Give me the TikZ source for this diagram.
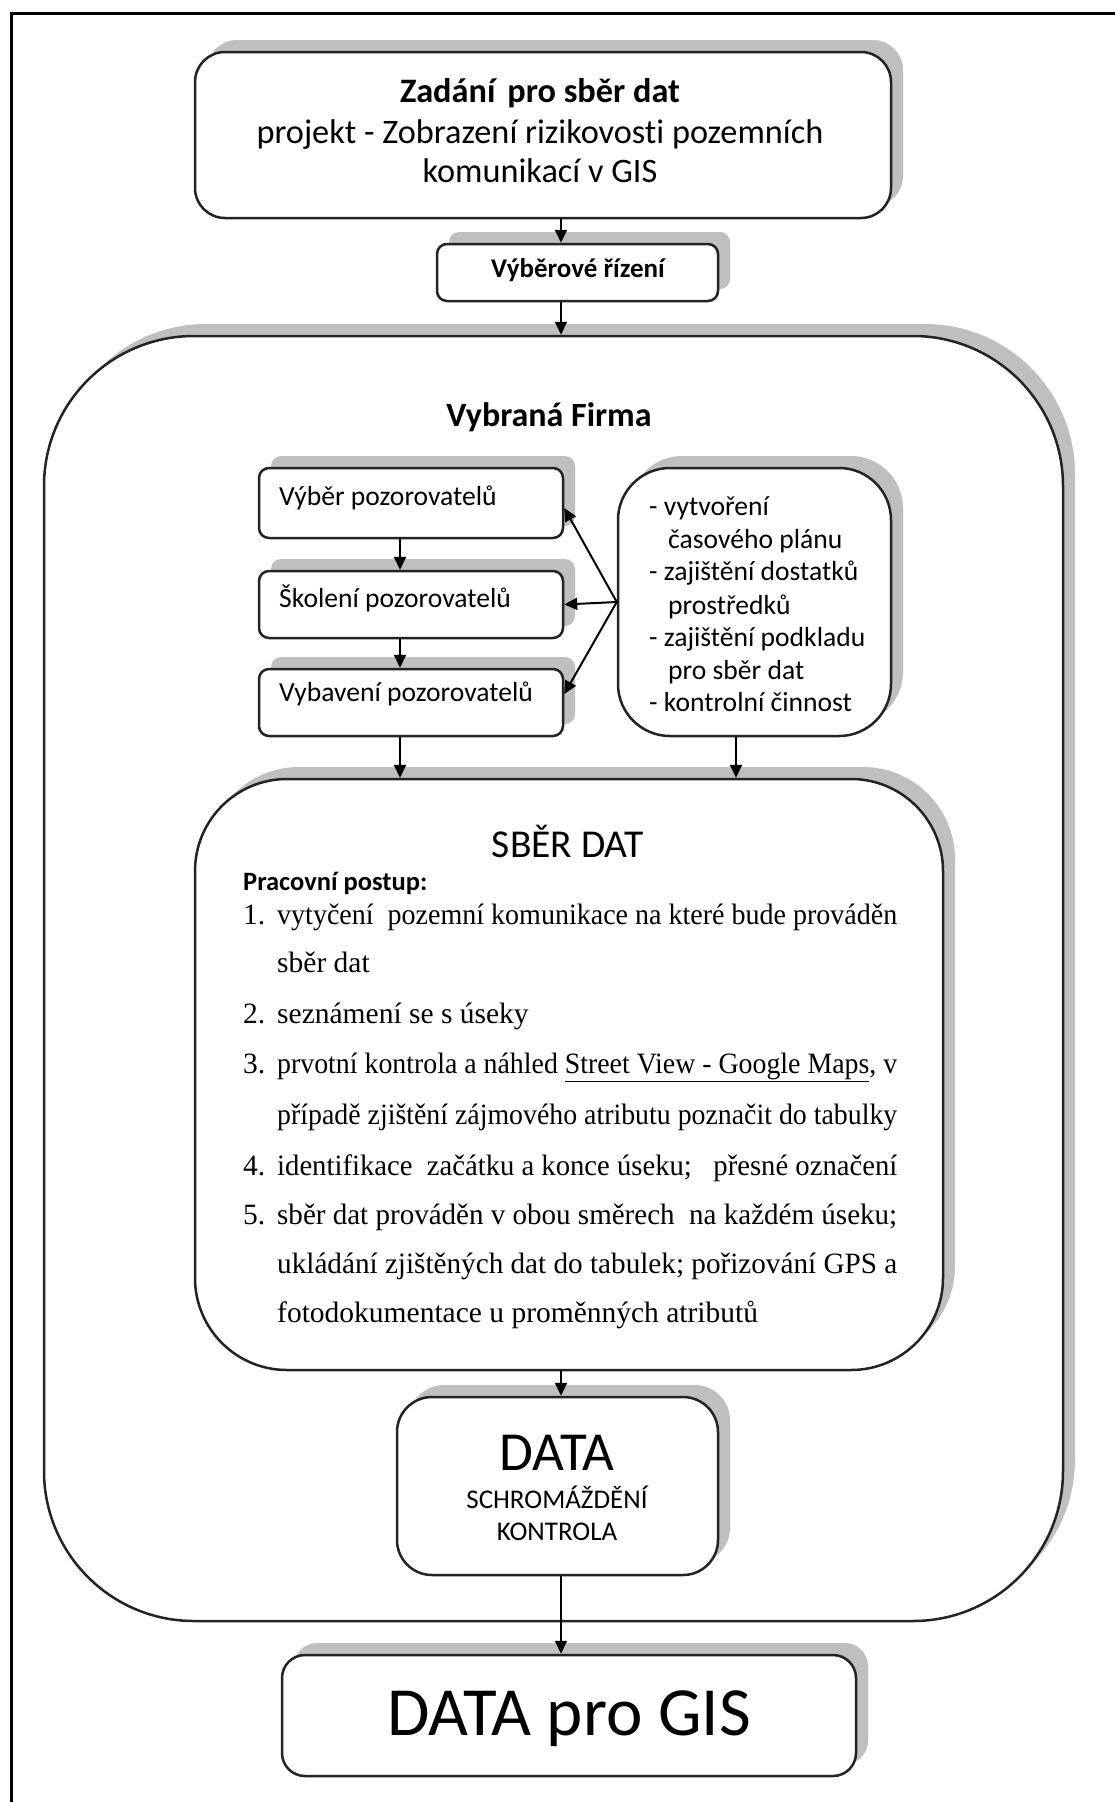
\documentclass[tikz,border=0pt]{standalone}
\usepackage{fontspec}
\setmainfont{Carlito}[Ligatures=NoCommon]
\newfontfamily\serifTNR{Liberation Serif}[Ligatures=NoCommon]
\usepackage{graphicx}
\usetikzlibrary{arrows.meta,shadows}
\definecolor{shadowgray}{RGB}{191,191,191}
\definecolor{edgegray}{RGB}{35,35,35}
\newcommand{\fs}[2]{\fontsize{#1}{#2}\selectfont}
\newcommand{\jl}[1]{\resizebox{620pt}{\height}{#1}}
\begin{document}
\begin{tikzpicture}[x=1pt,y=-1pt,
  box/.style={draw=edgegray, line width=2.5pt, fill=white, rectangle, inner sep=0pt,
     drop shadow={shadow xshift=12pt, shadow yshift=12pt, fill=shadowgray, opacity=1}},
  arr/.style={line width=2pt, -{Triangle[length=13pt,width=12pt]}},
  txt/.style={inner sep=0pt, anchor=base},
  ltxt/.style={inner sep=0pt, anchor=base west},
  smalltxt/.style={ltxt, font={\fs{27.6}{32}}},
  listtxt/.style={ltxt, font={\serifTNR\fs{29.5}{43}}},
]
\clip (0,0) rectangle (1115,1802);
\fill[white] (0,0) rectangle (1115,1802);
\draw[line width=3pt] (11,1830) -- (11,13) -- (1140,13);

% boxes
\node[box, minimum width=696pt, minimum height=166pt, rounded corners=30pt] (top) at (543,135) {};
\node[box, minimum width=281pt, minimum height=57pt, rounded corners=10pt] (vyber) at (577.5,272.5) {};
\node[box, minimum width=1019pt, minimum height=1285pt, rounded corners=150pt] (firma) at (553.5,978.5) {};
\node[box, minimum width=304pt, minimum height=70pt, rounded corners=10pt] (b1) at (411,503) {};
\node[box, minimum width=304pt, minimum height=67pt, rounded corners=10pt] (b2) at (411,604.5) {};
\node[box, minimum width=304pt, minimum height=67pt, rounded corners=10pt] (b3) at (411,702.5) {};
\node[box, minimum width=273pt, minimum height=268pt, rounded corners=52pt] (right) at (754.5,602) {};
\node[box, minimum width=748pt, minimum height=591pt, rounded corners=92pt] (sber) at (569,1074.5) {};
\node[box, minimum width=321pt, minimum height=178pt, rounded corners=35pt] (data) at (557.5,1486) {};
\node[box, minimum width=574pt, minimum height=121pt, rounded corners=23pt] (gis) at (569,1715.5) {};

% texts
\node[txt, font={\fs{34.3}{40}\bfseries}] (t1) at (540,102) {Zadání\hspace{0.35em}pro sběr dat};
\node[txt, font={\fs{34.3}{40}}] (t2) at (540,143) {projekt - Zobrazení rizikovosti pozemních};
\node[txt, font={\fs{34.3}{40}}] (t3) at (540,182) {komunikací v GIS};
\node[txt, font={\fs{27}{32}\bfseries}] (tv) at (578,277) {Výběrové řízení};
\node[txt, font={\fs{34}{40}\bfseries}] (tf) at (549,426) {Vybraná Firma};

\node[smalltxt] (tb1) at (279,505) {Výběr pozorovatelů};
\node[smalltxt] (tb2) at (279,607) {Školení pozorovatelů};
\node[smalltxt] (tb3) at (279,701) {Vybavení pozorovatelů};

\node[smalltxt] (r1) at (649,515) {- vytvoření};
\node[smalltxt] (r2) at (668,548) {časového plánu};
\node[smalltxt] (r3) at (649,580) {- zajištění dostatků};
\node[smalltxt] (r4) at (668,614) {prostředků};
\node[smalltxt] (r5) at (649,646) {- zajištění podkladu};
\node[smalltxt] (r6) at (668,679) {pro sběr dat};
\node[smalltxt] (r7) at (649,711) {- kontrolní činnost};

\node[txt, font={\fs{39.5}{44}}] (ts) at (568,857) {SBĚR DAT};
\node[ltxt, font={\fs{26.5}{30}\bfseries}] (tp) at (243,890) {Pracovní postup:};

\node[listtxt] (n1) at (243,924) {1.};
\node[listtxt] (l1a) at (277,924) {\jl{vytyčení~ pozemní komunikace na které bude prováděn}};
\node[listtxt] (l1b) at (277,972) {sběr dat};
\node[listtxt] (n2) at (243,1023) {2.};
\node[listtxt] (l2) at (277,1023) {seznámení se s úseky};
\node[listtxt] (n3) at (243,1073) {3.};
\node[listtxt] (l3a) at (277,1073) {\jl{prvotní kontrola a náhled \underline{Street View - Google Maps}, v}};
\node[listtxt] (l3b) at (277,1124) {\jl{případě zjištění zájmového atributu poznačit do tabulky}};
\node[listtxt] (n4) at (243,1175) {4.};
\node[listtxt] (l4) at (277,1175) {\jl{identifikace~ začátku a konce úseku;~~ přesné označení}};
\node[listtxt] (n5) at (243,1224) {5.};
\node[listtxt] (l5a) at (277,1224) {\jl{sběr dat prováděn v obou směrech~ na každém úseku;}};
\node[listtxt] (l5b) at (277,1273) {\jl{ukládání zjištěných dat do tabulek; pořizování GPS a}};
\node[listtxt] (l5c) at (277,1322) {fotodokumentace u proměnných atributů};

\node[txt, font={\fs{55}{60}}] (td1) at (557,1470) {DATA};
\node[txt, font={\fs{27}{30}}] (td2) at (557,1508) {SCHROMÁŽDĚNÍ};
\node[txt, font={\fs{27}{30}}] (td3) at (557,1540) {KONTROLA};
\node[txt, font={\fs{69}{74}}] (tg) at (569,1735) {DATA pro GIS};

% connectors
\coordinate (ax) at (561,0);
\coordinate (lx) at (400,0);
\coordinate (rx) at (736,0);
\draw[arr] (top.south -| ax) -- (vyber.north -| ax);
\draw[arr] (vyber.south -| ax) -- (firma.north -| ax);
\draw[arr] (b1.south -| lx) -- (b2.north -| lx);
\draw[arr] (b2.south -| lx) -- (b3.north -| lx);
\draw[arr] (right.west) -- ([yshift=-5pt]b1.east);
\draw[arr] (right.west) -- (b2.east);
\draw[arr] (right.west) -- ([yshift=8.5pt]b3.east);
\draw[arr] (b3.south -| lx) -- (sber.north -| lx);
\draw[arr] (right.south -| rx) -- (sber.north -| rx);
\draw[arr] (sber.south -| ax) -- (data.north -| ax);
\draw[arr] (data.south -| ax) -- (gis.north -| ax);
\end{tikzpicture}
\end{document}
